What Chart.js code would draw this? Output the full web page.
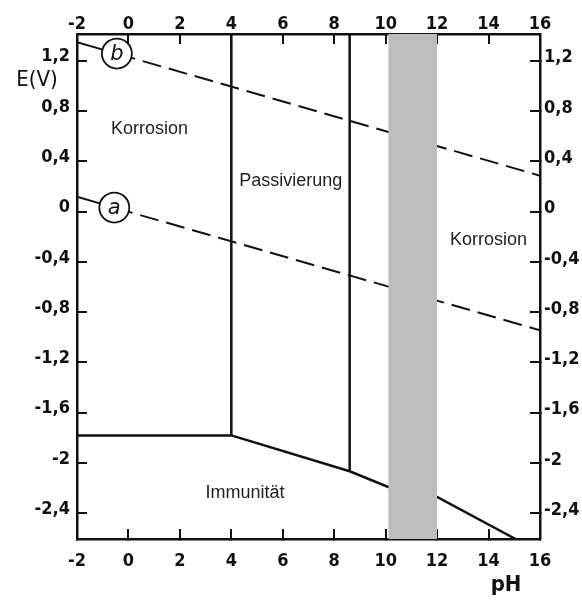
<!DOCTYPE html>
<html><head><meta charset="utf-8">
<script src="https://cdn.jsdelivr.net/npm/chart.js@4"></script>
<style>html,body{margin:0;padding:0;background:#fff}</style>
</head><body>
<canvas id="c" width="582" height="601"></canvas>
<script>
// ---- data ----
const xTicks = [-2, 0, 2, 4, 6, 8, 10, 12, 14, 16];
const xTickLabels = ['-2', '0', '2', '4', '6', '8', '10', '12', '14', '16'];
const yTicks = [1.2, 0.8, 0.4, 0, -0.4, -0.8, -1.2, -1.6, -2, -2.4];
const yTickLabels = ['1,2', '0,8', '0,4', '0', '-0,4', '-0,8', '-1,2', '-1,6', '-2', '-2,4'];
const xMin = -2, xMax = 16, yMin = -2.604, yMax = 1.413;

const lineB_pH = [-2, -0.45, 16];
const lineB_E = [1.348, 1.257, 0.286];
const lineA_pH = [-2, -0.55, 16];
const lineA_E = [0.118, 0.032, -0.944];
const circle_pH = [-0.45, -0.55];
const circle_E = [1.257, 0.032];
const circleLetters = ['b', 'a'];

const bound4_pH = [4, 4];
const bound4_E = [yMax, -1.78];
const bound86_pH = [8.6, 8.6];
const bound86_E = [yMax, -2.065];
const immunTop_pH = [-2, 4];
const immunTop_E = [-1.78, -1.78];
const lower_pH = [4, 8.6, 10.1, 12, 15.05];
const lower_E = [-1.78, -2.065, -2.19, -2.27, -2.604];
const band_pH = [10.1, 12];
const band_E = [yMax, yMax];

const regionText = ['Korrosion', 'Passivierung', 'Korrosion', 'Immunität'];
const region_pH = [0.82, 6.31, 14.0, 4.53];
const region_E = [0.66, 0.242, -0.228, -2.24];

// ---- helpers ----
const pts = (xs, ys) => xs.map((x, i) => ({x: x, y: ys[i]}));
const solid = (xs, ys, order) => ({
  type: 'line', data: pts(xs, ys), borderColor: '#111', borderWidth: 2.5,
  pointRadius: 0, fill: false, tension: 0, order: order
});
const dashed = (xs, ys) => ({
  type: 'line', data: pts(xs, ys), borderColor: '#111', borderWidth: 2,
  pointRadius: 0, fill: false, tension: 0, order: 3,
  segment: { borderDash: ctx => ctx.p0DataIndex === 0 ? [] : [19, 8] }
});

const annot = {
  id: 'annot',
  afterDatasetsDraw(chart) {
    const ctx = chart.ctx;
    const sx = chart.scales.x, sy = chart.scales.y;
    ctx.save();
    const meta = chart.getDatasetMeta(0);
    ctx.fillStyle = '#111';
    ctx.textAlign = 'center';
    ctx.textBaseline = 'middle';
    ctx.font = 'italic 21px "DejaVu Sans"';
    meta.data.forEach((el, i) => {
      ctx.fillText(circleLetters[i], el.x, el.y + 1);
    });
    ctx.font = '18px "Liberation Sans"';
    ctx.fillStyle = '#222';
    regionText.forEach((t, i) => {
      ctx.fillText(t, sx.getPixelForValue(region_pH[i]), sy.getPixelForValue(region_E[i]));
    });
    ctx.fillStyle = '#111';
    ctx.font = '22px "DejaVu Sans Condensed"';
    ctx.fillText('E(V)', 37, 80);
    ctx.font = 'bold 22px "DejaVu Sans Condensed"';
    ctx.fillText('pH', 506, 585);
    ctx.restore();
  }
};

const tickFont = {family: 'DejaVu Sans Condensed', size: 18, weight: 'bold'};
const setTicks = (vals) => (scale) => { scale.ticks = vals.map(v => ({value: v})); };
const gridOpts = {drawOnChartArea: false, drawTicks: true, tickLength: -10, color: '#111', lineWidth: 2};
const borderOpts = {display: true, color: '#111', width: 2.5};

new Chart(document.getElementById('c'), {
  type: 'line',
  data: {
    datasets: [
      { type: 'line', data: pts(circle_pH, circle_E), showLine: false,
        pointRadius: 15, pointHoverRadius: 15, pointBackgroundColor: '#fff',
        pointBorderColor: '#111', pointBorderWidth: 1.8, order: 0 },
      { type: 'line', data: pts(band_pH, band_E), fill: 'start',
        backgroundColor: '#bdbdbd', borderWidth: 0, pointRadius: 0, order: 1 },
      dashed(lineB_pH, lineB_E),
      dashed(lineA_pH, lineA_E),
      solid(bound4_pH, bound4_E, 2),
      solid(bound86_pH, bound86_E, 2),
      solid(immunTop_pH, immunTop_E, 2),
      solid(lower_pH, lower_E, 2)
    ]
  },
  options: {
    responsive: false,
    animation: false,
    events: [],
    layout: {padding: 0},
    plugins: {legend: {display: false}, tooltip: {enabled: false}},
    scales: {
      x: {
        type: 'linear', position: 'bottom', min: xMin, max: xMax,
        afterBuildTicks: setTicks(xTicks),
        afterFit: s => { s.height = 62; },
        grid: gridOpts, border: borderOpts,
        ticks: {autoSkip: false, maxRotation: 0, padding: 22, font: tickFont, color: '#111',
          callback: (v) => xTickLabels[xTicks.indexOf(v)]}
      },
      x2: {
        type: 'linear', position: 'top', min: xMin, max: xMax,
        afterBuildTicks: setTicks(xTicks),
        afterFit: s => { s.height = 34; },
        grid: gridOpts, border: borderOpts,
        ticks: {autoSkip: false, maxRotation: 0, padding: 9, font: tickFont, color: '#111',
          callback: (v) => xTickLabels[xTicks.indexOf(v)]}
      },
      y: {
        type: 'linear', position: 'left', min: yMin, max: yMax,
        afterBuildTicks: setTicks(yTicks),
        afterFit: s => { s.width = 77; },
        grid: gridOpts, border: borderOpts,
        ticks: {autoSkip: false, padding: 17, labelOffset: -4, font: tickFont, color: '#111',
          callback: (v) => yTickLabels[yTicks.indexOf(v)]}
      },
      y2: {
        type: 'linear', position: 'right', min: yMin, max: yMax,
        afterBuildTicks: setTicks(yTicks),
        afterFit: s => { s.width = 42; },
        grid: gridOpts, border: borderOpts,
        ticks: {autoSkip: false, padding: 14, labelOffset: -3, font: tickFont, color: '#111',
          callback: (v) => yTickLabels[yTicks.indexOf(v)]}
      }
    }
  },
  plugins: [annot]
});
</script>
</body></html>
